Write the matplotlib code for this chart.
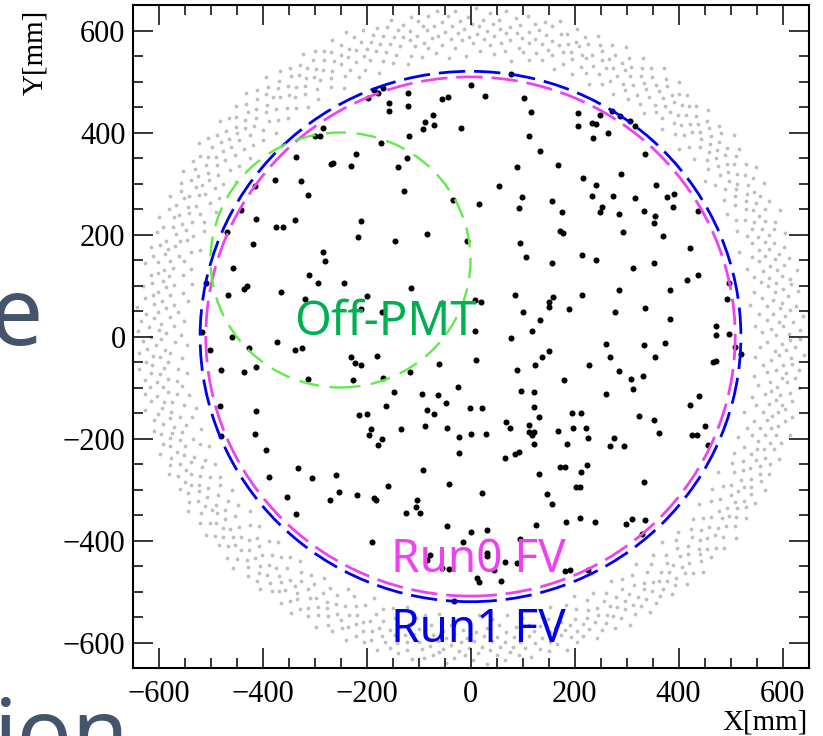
import numpy as np
import matplotlib
matplotlib.use("Agg")
import matplotlib.pyplot as plt
from matplotlib.patches import Circle
from matplotlib.ticker import MultipleLocator

# ---------------- data (mm) ----------------
# events inside the fiducial volume (x, y)
fv_events = [
    (-283,409),(-300,393),(-289,393),(-336,352),(-221,357),(-269,338),(-264,340),(-229,335),(-376,306),
    (-326,304),(-415,295),(-312,277),(-442,249),(-413,231),(-338,228),(-374,214),(-361,214),(-211,227),
    (-197,468),(-186,483),(-178,478),(-169,487),(-121,478),(-157,457),(-157,443),(-121,451),(-54,465),
    (-44,470),(1,493),(28,472),(77,514),(103,468),(117,441),(206,439),(206,413),(-72,434),(-87,420),
    (-70,415),(-91,407),(-18,408),(-119,394),(112,394),(-172,380),(-122,350),(-139,332),(134,363),(90,333),
    (169,336),(216,310),(-127,286),(54,295),(-34,268),(17,260),(99,273),(93,252),(157,265),(175,245),
    (249,435),(273,442),(288,432),(306,423),(317,413),(234,419),(242,417),(265,400),(236,389),(335,358),
    (290,319),(241,297),(356,297),(233,275),(274,276),(316,271),(377,273),(391,280),(390,254),(253,254),
    (249,245),(286,241),(334,247),(355,236),(352,223),(437,247),
    (-468,205),(-217,195),(-418,181),(-283,166),(-279,148),(-456,134),(-310,121),(-294,104),(-244,105),
    (-508,104),(-436,94),(-430,99),(-466,82),(-364,88),(-319,74),(-517,8),(-458,0),(-501,-26),(-426,-22),
    (-372,-11),(-338,-26),(-325,-22),(-230,-40),(-222,-51),(-211,-56),(-480,-66),(-435,-69),(-413,-59),
    (-312,-83),(-226,-85),(-481,-137),(-412,-146),(-215,-153),(-414,-191),(-479,-195),
    (-145,187),(-84,201),(-7,187),(172,206),(178,203),(95,184),(106,155),(156,144),(215,159),(-114,95),
    (-199,79),(-211,53),(-170,49),(-54,66),(9,71),(21,67),(86,81),(159,77),(150,68),(150,58),(101,49),
    (190,53),(133,33),(119,10),(8,10),(77,-2),(150,-29),(138,-41),(124,-56),(90,-65),(179,-86),(10,-47),
    (-61,-54),(-179,-39),(-116,-69),(-168,-81),(-24,-99),(-148,-108),(-93,-112),(-62,-115),(-47,-130),
    (-163,-136),(97,-107),(123,-108),(-199,-152),(-84,-144),(-71,-152),(-1,-140),(23,-140),(122,-139),
    (131,-157),(195,-150),(213,-150),(69,-167),(75,-180),(112,-173),(112,-188),(118,-193),(123,-188),
    (168,-185),(197,-179),(-192,-182),(-196,-194),(-171,-201),(-134,-182),(-88,-176),(-45,-180),
    (-23,-197),(1,-191),(29,-191),
    (294,204),(370,198),(423,173),(242,150),(313,134),(353,144),(416,110),(437,121),(497,105),(493,74),
    (215,82),(286,92),(383,91),(277,49),(336,56),(384,35),(472,21),(472,2),(498,5),(508,-20),(520,-35),
    (261,-14),(334,-16),(374,-12),(268,-41),(355,-41),(466,-50),(472,-49),(228,-56),(285,-67),(308,-83),
    (331,-77),(312,-102),(261,-113),(439,-117),(423,-135),(324,-156),(353,-163),(223,-180),(450,-175),
    (226,-199),(276,-199),(362,-190),(426,-194),(435,-193),
    (-393,-222),(-332,-257),(-388,-276),(-304,-277),(-259,-272),(-352,-315),(-271,-321),(-252,-305),
    (-218,-310),(-335,-348),
    (-177,-213),(-23,-228),(-92,-261),(-159,-294),(-186,-317),(-181,-321),(-103,-321),(-104,-334),
    (-98,-346),(-124,-346),(-42,-289),(22,-306),(66,-239),(86,-231),(93,-226),(122,-210),(186,-210),
    (172,-256),(182,-256),(212,-265),(131,-270),(203,-295),(210,-295),(147,-308),(156,-329),(184,-363),
    (210,-355),(125,-369),(-46,-371),(0,-384),(32,-380),(-190,-402),(-15,-403),(95,-398),(-78,-428),
    (-83,-439),(32,-425),(31,-430),(-55,-453),(-41,-455),(66,-443),(90,-445),(46,-457),(12,-473),
    (17,-482),(59,-480),(182,-460),(191,-457),(-32,-518),
    (268,-215),(295,-214),(456,-212),(224,-251),(333,-286),(239,-364),(299,-367),(310,-358),(335,-359),
    (330,-387),(225,-458),
]

# events outside the fiducial volume, (angle in 0.1 deg, radius in mm)
outer_events_polar = [
    (2,588),(5,612),(9,561),(11,633),(15,579),(19,601),(22,547),(26,621),(28,594),(33,571),(36,640),(38,606),(43,583),(45,556),(49,617),(53,598),(55,629),(60,574),(63,603),(66,541),(70,587),(74,615),(77,566),(80,636),(84,592),(88,609),(91,552),(95,624),(98,580),
    (101,597),(104,625),(108,569),(112,611),(114,585),(118,642),(121,558),(125,603),(129,577),(131,619),(135,592),(139,548),(142,631),(146,606),(149,574),(152,615),(156,589),(160,563),(163,628),(167,600),(170,581),(174,612),(178,543),(181,595),(185,637),(188,571),(192,608),(195,586),(198,620),
    (203,566),(206,599),(209,627),(213,582),(217,610),(220,553),(224,590),(227,645),(231,604),(235,575),(238,618),(241,560),(245,596),(249,633),(252,585),(256,608),(259,549),(263,622),(266,593),(270,570),(274,614),(277,601),(281,639),(284,578),(288,557),(291,611),(295,587),(298,626),
    (302,594),(305,568),(309,615),(312,641),(316,583),(319,603),(323,556),(326,629),(330,591),(334,574),(337,610),(340,545),(344,598),(347,620),(351,581),(355,634),(358,562),(361,605),(365,588),(368,617),(372,571),(376,599),(379,642),(383,584),(386,611),(390,553),(393,596),(397,625),
    (401,578),(404,607),(408,632),(411,589),(415,562),(418,614),(422,597),(425,544),(429,621),(432,585),(436,603),(440,570),(443,637),(447,593),(450,612),(454,559),(457,580),(461,626),(464,601),(468,573),(471,616),(475,590),(479,548),(482,609),(486,631),(489,583),(493,565),(496,604),(499,622),
    (503,587),(506,612),(510,566),(513,640),(517,596),(520,575),(524,619),(527,552),(531,603),(534,629),(538,581),(541,608),(545,561),(548,644),(552,592),(555,617),(559,572),(562,599),(566,630),(569,555),(573,606),(576,584),(580,621),(583,567),(587,638),(590,595),(594,576),(597,613),
    (601,549),(604,602),(608,626),(611,583),(615,611),(618,568),(622,641),(625,594),(629,557),(632,618),(636,587),(639,605),(643,572),(646,633),(650,598),(653,546),(657,614),(660,581),(664,623),(667,562),(671,600),(674,639),(678,589),(681,570),(685,616),(688,593),(692,551),(695,627),(699,607),
    (702,578),(706,613),(709,590),(713,636),(716,563),(720,604),(723,585),(727,622),(730,548),(734,597),(737,617),(741,574),(744,643),(748,601),(751,582),(755,628),(758,559),(762,609),(765,590),(769,634),(772,570),(776,615),(779,596),(783,553),(786,625),(790,586),(793,607),(797,566),
    (800,638),(804,593),(807,574),(811,619),(814,602),(818,545),(821,630),(825,587),(828,611),(832,564),(835,598),(839,641),(842,579),(846,606),(849,624),(853,555),(856,591),(860,615),(863,572),(867,635),(870,600),(874,583),(877,622),(881,561),(884,609),(888,594),(891,645),(895,576),(898,612),
    (902,588),(905,627),(909,551),(912,603),(916,581),(919,618),(923,596),(926,639),(930,567),(933,610),(937,585),(940,629),(944,547),(947,600),(951,620),(954,574),(958,642),(961,592),(965,612),(968,560),(972,589),(975,633),(979,607),(982,571),(986,615),(989,583),(993,626),(996,556),(999,598),
    (1003,637),(1006,579),(1010,611),(1013,592),(1017,562),(1020,624),(1024,601),(1027,548),(1031,617),(1034,586),(1038,640),(1041,605),(1045,570),(1048,628),(1052,594),(1055,557),(1059,613),(1062,581),(1066,632),(1069,599),(1073,566),(1076,620),(1080,589),(1083,608),(1087,546),(1090,636),(1094,597),(1097,576),
    (1101,615),(1104,587),(1108,629),(1111,561),(1115,603),(1118,644),(1122,582),(1125,610),(1129,553),(1132,596),(1136,623),(1139,571),(1143,606),(1146,639),(1150,590),(1153,565),(1157,618),(1160,600),(1164,545),(1167,627),(1171,584),(1174,611),(1178,574),(1181,635),(1185,595),(1188,558),(1192,621),(1195,603),(1199,580),
    (1202,642),(1206,591),(1209,613),(1213,567),(1216,626),(1220,598),(1223,550),(1227,609),(1230,585),(1234,631),(1237,572),(1241,616),(1244,594),(1248,548),(1251,637),(1255,603),(1258,578),(1262,622),(1265,588),(1269,560),(1272,612),(1276,643),(1279,596),(1283,570),(1286,625),(1290,604),(1293,554),(1297,617),
    (1300,583),(1304,634),(1307,599),(1311,563),(1314,620),(1318,590),(1321,644),(1325,574),(1328,608),(1332,547),(1335,628),(1339,595),(1342,615),(1346,569),(1349,639),(1353,586),(1356,606),(1360,556),(1363,624),(1367,597),(1370,579),(1374,632),(1377,611),(1381,562),(1384,600),(1388,641),(1391,588),(1395,619),(1398,571),
    (1402,605),(1405,549),(1409,627),(1412,592),(1416,613),(1419,576),(1423,638),(1426,598),(1430,557),(1433,621),(1437,585),(1440,646),(1444,603),(1447,566),(1451,616),(1454,593),(1458,629),(1461,544),(1465,609),(1468,580),(1472,635),(1475,598),(1479,561),(1482,623),(1486,589),(1489,611),(1493,572),(1496,642),
    (1500,596),(1503,619),(1507,555),(1510,604),(1514,582),(1517,633),(1521,591),(1524,566),(1528,626),(1531,608),(1535,547),(1538,614),(1542,587),(1545,640),(1549,600),(1552,573),(1556,622),(1559,594),(1563,559),(1566,631),(1570,609),(1573,581),(1577,617),(1580,552),(1584,597),(1587,643),(1591,585),(1594,612),(1598,569),
    (1601,628),(1605,601),(1608,577),(1612,636),(1615,590),(1619,548),(1622,615),(1626,595),(1629,562),(1633,624),(1636,606),(1640,639),(1643,583),(1647,610),(1650,571),(1654,630),(1657,597),(1661,554),(1664,619),(1668,588),(1671,642),(1675,604),(1678,566),(1682,613),(1685,592),(1689,627),(1692,546),(1696,601),(1699,579),
    (1703,621),(1706,593),(1710,637),(1713,560),(1717,607),(1720,584),(1724,616),(1727,548),(1731,631),(1734,598),(1738,574),(1741,612),(1745,589),(1748,644),(1752,565),(1755,603),(1759,625),(1762,580),(1766,609),(1769,552),(1773,634),(1776,595),(1780,571),(1783,618),(1787,600),(1790,640),(1794,586),(1797,557),
    (1801,614),(1804,596),(1808,629),(1811,568),(1815,605),(1818,545),(1822,622),(1825,589),(1829,638),(1832,578),(1836,611),(1839,598),(1843,556),(1846,627),(1850,584),(1853,615),(1857,641),(1860,593),(1864,566),(1867,619),(1871,602),(1874,549),(1878,632),(1881,587),(1885,610),(1888,572),(1892,624),(1895,599),(1899,563),
    (1902,636),(1906,592),(1909,614),(1913,576),(1916,627),(1920,553),(1923,604),(1927,588),(1930,643),(1934,609),(1937,567),(1941,620),(1944,594),(1948,546),(1951,631),(1955,600),(1958,581),(1962,616),(1965,559),(1969,637),(1972,597),(1976,573),(1979,625),(1983,605),(1986,585),(1990,611),(1993,550),(1997,628),
    (2000,594),(2004,617),(2007,570),(2011,641),(2014,589),(2018,608),(2021,561),(2025,623),(2028,598),(2032,547),(2035,630),(2039,582),(2042,612),(2046,592),(2049,639),(2053,565),(2056,606),(2060,626),(2063,577),(2067,601),(2070,552),(2074,619),(2077,588),(2081,634),(2084,611),(2088,572),(2091,597),(2095,625),(2098,556),
    (2102,604),(2105,585),(2109,632),(2112,563),(2116,615),(2119,596),(2123,642),(2126,576),(2130,609),(2133,549),(2137,624),(2140,590),(2144,603),(2147,568),(2151,636),(2154,599),(2158,583),(2161,620),(2165,557),(2168,612),(2172,593),(2175,640),(2179,574),(2182,606),(2186,628),(2189,545),(2193,597),(2196,617),
    (2200,580),(2203,633),(2207,602),(2210,562),(2214,621),(2217,591),(2221,611),(2224,551),(2228,638),(2231,584),(2235,608),(2238,570),(2242,627),(2245,596),(2249,644),(2252,578),(2256,613),(2259,558),(2263,600),(2266,623),(2270,587),(2273,547),(2277,635),(2280,605),(2284,574),(2287,616),(2291,592),(2294,631),(2298,566),
    (2301,609),(2305,587),(2308,640),(2312,555),(2315,618),(2319,598),(2322,575),(2326,629),(2329,603),(2333,548),(2336,621),(2340,590),(2343,611),(2347,565),(2350,637),(2354,595),(2357,580),(2361,624),(2364,604),(2368,559),(2371,614),(2375,642),(2378,586),(2382,571),(2385,626),(2389,599),(2392,552),(2396,617),(2399,593),
    (2403,632),(2406,577),(2410,606),(2413,563),(2417,620),(2420,589),(2424,643),(2427,600),(2431,568),(2434,613),(2438,585),(2441,628),(2445,549),(2448,602),(2452,636),(2455,581),(2459,610),(2462,557),(2466,623),(2469,594),(2473,572),(2476,617),(2480,641),(2483,588),(2487,605),(2490,564),(2494,627),(2497,597),
    (2501,546),(2504,614),(2508,590),(2511,634),(2515,573),(2518,608),(2522,625),(2525,560),(2529,599),(2532,583),(2536,640),(2539,612),(2543,553),(2546,621),(2550,595),(2553,571),(2557,630),(2560,604),(2564,586),(2567,617),(2571,545),(2574,636),(2578,598),(2581,576),(2585,611),(2588,626),(2592,562),(2595,593),(2599,643),
    (2602,582),(2606,607),(2609,554),(2613,619),(2616,596),(2620,637),(2623,570),(2627,612),(2630,589),(2634,628),(2637,548),(2641,601),(2644,622),(2648,579),(2651,615),(2655,593),(2658,641),(2662,566),(2665,606),(2669,585),(2672,631),(2676,557),(2679,618),(2683,600),(2686,575),(2690,624),(2693,591),(2697,610),
    (2700,563),(2704,634),(2707,597),(2711,580),(2714,620),(2718,546),(2721,609),(2725,588),(2728,642),(2732,572),(2735,616),(2739,599),(2742,556),(2746,627),(2749,592),(2753,611),(2756,568),(2760,638),(2763,603),(2767,583),(2770,623),(2774,551),(2777,614),(2781,595),(2784,632),(2788,576),(2791,606),(2795,587),(2798,619),
    (2802,560),(2805,640),(2809,598),(2812,577),(2816,613),(2819,590),(2823,628),(2826,549),(2830,607),(2833,584),(2837,635),(2840,566),(2844,618),(2847,600),(2851,574),(2854,625),(2858,594),(2861,553),(2865,611),(2868,643),(2872,586),(2875,604),(2879,569),(2882,621),(2886,597),(2889,633),(2893,558),(2896,612),
    (2900,589),(2903,626),(2907,572),(2910,603),(2914,547),(2917,617),(2921,595),(2924,639),(2928,581),(2931,609),(2935,563),(2938,629),(2942,599),(2945,585),(2949,620),(2952,555),(2956,606),(2959,636),(2963,578),(2966,614),(2970,592),(2973,567),(2977,624),(2980,601),(2984,644),(2987,583),(2991,611),(2994,551),(2998,597),
    (3001,630),(3005,574),(3008,612),(3012,590),(3015,557),(3019,622),(3022,604),(3026,641),(3029,580),(3033,615),(3036,562),(3040,598),(3043,633),(3047,587),(3050,608),(3054,548),(3057,626),(3061,596),(3064,573),(3068,618),(3071,602),(3075,637),(3078,565),(3082,610),(3085,589),(3089,627),(3092,554),(3096,600),
    (3099,616),(3103,583),(3106,639),(3110,594),(3113,569),(3117,620),(3120,607),(3124,546),(3127,631),(3131,590),(3134,611),(3138,575),(3141,643),(3145,598),(3148,561),(3152,624),(3155,586),(3159,614),(3162,553),(3166,605),(3169,634),(3173,579),(3176,617),(3180,595),(3183,568),(3187,628),(3190,603),(3194,584),(3197,640),
    (3201,558),(3204,611),(3208,592),(3211,625),(3215,571),(3218,606),(3222,645),(3225,582),(3229,615),(3232,549),(3236,600),(3239,630),(3243,588),(3246,609),(3250,564),(3253,621),(3257,596),(3260,638),(3264,576),(3267,613),(3271,552),(3274,604),(3278,627),(3281,589),(3285,617),(3288,567),(3292,636),(3295,598),
    (3299,580),(3302,622),(3306,603),(3309,545),(3313,614),(3316,591),(3320,642),(3323,573),(3327,608),(3330,626),(3334,585),(3337,560),(3341,619),(3344,597),(3348,634),(3351,578),(3355,611),(3358,556),(3362,601),(3365,628),(3369,587),(3372,615),(3376,569),(3379,640),(3383,594),(3386,606),(3390,550),(3393,623),(3397,590),
    (3400,612),(3404,575),(3407,633),(3411,598),(3414,561),(3418,619),(3421,586),(3425,644),(3428,604),(3432,570),(3435,616),(3439,593),(3442,547),(3446,627),(3449,601),(3453,581),(3456,638),(3460,609),(3463,565),(3467,622),(3470,590),(3474,613),(3477,554),(3481,600),(3484,631),(3488,578),(3491,607),(3495,588),(3498,625),
    (3502,562),(3505,597),(3509,640),(3512,583),(3516,615),(3519,551),(3523,605),(3526,629),(3530,574),(3533,611),(3537,592),(3540,636),(3544,566),(3547,603),(3551,621),(3554,580),(3558,548),(3561,617),(3565,595),(3568,642),(3572,586),(3575,608),(3579,558),(3582,625),(3586,599),(3589,571),(3593,614),(3596,633),
]

# fiducial-volume / region circles: (name, center_x, center_y, radius)
circle_names = ["Run1 FV", "Run0 FV", "Off-PMT"]
circle_cx = [0, 0, -250]
circle_cy = [0, 0, 150]
circle_r = [520, 509, 250]

x_ticks = [-600, -400, -200, 0, 200, 400, 600]
y_ticks = [-600, -400, -200, 0, 200, 400, 600]

# ---------------- figure ----------------
W, H = 823, 736
fig = plt.figure(figsize=(W / 100, H / 100), dpi=100)
ax = fig.add_axes([132.5 / W, (H - 668) / H, 676 / W, 663 / H])

serif = "Liberation Serif"
sans = "Noto Sans"

# outer (rejected) events
ang = np.deg2rad(np.array([p[0] for p in outer_events_polar]) / 10.0)
rad = np.array([p[1] for p in outer_events_polar], dtype=float)
ax.scatter(rad * np.cos(ang), rad * np.sin(ang), s=7.5, c="#bfbfbf",
           linewidths=0, zorder=1)

# FV events
fx = np.array([p[0] for p in fv_events], dtype=float)
fy = np.array([p[1] for p in fv_events], dtype=float)
ax.scatter(fx, fy, s=19, c="black", linewidths=0, zorder=2)

# circles
styles = {
    "Run1 FV": dict(ec="#0000f0", lw=2.0, ls=(0, (9.5, 3.2))),
    "Run0 FV": dict(ec="#ee42ee", lw=2.0, ls=(0, (9.5, 3.2))),
    "Off-PMT": dict(ec="#62ea4a", lw=1.7, ls=(0, (8.5, 4.5))),
}
for name, cx, cy, r in zip(circle_names, circle_cx, circle_cy, circle_r):
    ax.add_patch(Circle((cx, cy), r, fill=False, zorder=3, **styles[name]))

# labels on the plot
ax.text(-163, 3, "Off-PMT", color="#00b050", fontsize=34, family=sans,
        ha="center", va="baseline", zorder=4)
ax.text(16, -461, "Run0 FV", color="#ee42ee", fontsize=33, family=sans,
        ha="center", va="baseline", zorder=4)
ax.text(16, -599, "Run1 FV", color="#0000ee", fontsize=33, family=sans,
        ha="center", va="baseline", zorder=4)

# axes
ax.set_xlim(-650, 650)
ax.set_ylim(-650, 650)
ax.set_xticks(x_ticks)
ax.set_yticks(y_ticks)
ax.xaxis.set_minor_locator(MultipleLocator(50))
ax.yaxis.set_minor_locator(MultipleLocator(50))
ax.tick_params(which="both", direction="in", top=True, right=True,
               labelsize=22, width=1.1, colors="black")
ax.tick_params(which="major", length=14.5)
ax.tick_params(which="minor", length=7.2)
ax.tick_params(axis="x", pad=9)
ax.tick_params(axis="y", pad=5)
for lab in ax.get_xticklabels() + ax.get_yticklabels():
    lab.set_family(serif)
for sp in ax.spines.values():
    sp.set_linewidth(1.5)

fig.text(808 / W, 1 - 722 / H, "X[mm]", ha="right", va="center",
         fontsize=21, family=serif)
fig.text(35 / W, 1 - 10 / H, "Y[mm]", ha="center", va="top",
         rotation=90, fontsize=21, family=serif)

# slide text partially visible at the left edge
fig.text(-10 / W, 1 - 345 / H, "e", color="#44546a", fontsize=68,
         family=sans, ha="left", va="baseline")
fig.text(-6 / W, 1 - 764 / H, "ion", color="#44546a", fontsize=66,
         family=sans, ha="left", va="baseline")

fig.savefig("out.png", dpi=100)
